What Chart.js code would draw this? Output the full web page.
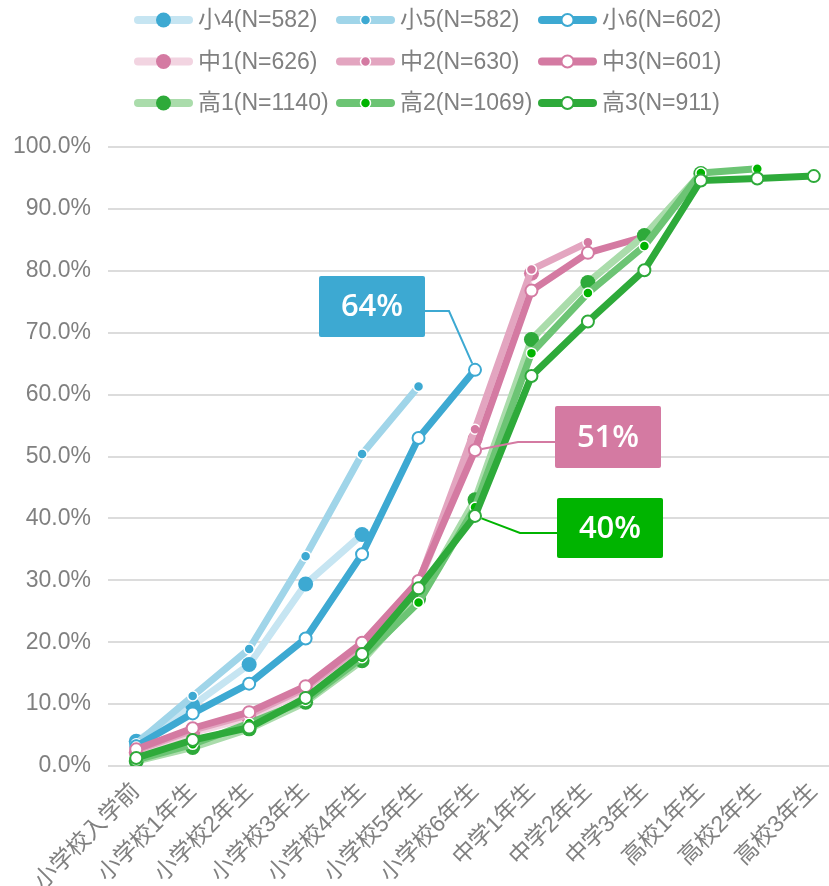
<!DOCTYPE html>
<html>
<head>
<meta charset="utf-8">
<script src="https://cdn.jsdelivr.net/npm/chart.js@4.4.1/dist/chart.umd.min.js"></script>
<style>
html, body { margin:0; padding:0; background:#fff; overflow:hidden; width:829px; height:886px; }
#wrap { position:relative; width:842px; height:886px; }
</style>
</head>
<body>
<div id="wrap"><canvas id="chart" width="842" height="886"></canvas></div>
<script>
// x categories (grade)
const categories = ['小学校入学前','小学校1年生','小学校2年生','小学校3年生','小学校4年生','小学校5年生','小学校6年生','中学1年生','中学2年生','中学3年生','高校1年生','高校2年生','高校3年生'];

// cumulative share (%) per cohort
const sho4  = [4.0, 9.8, 16.4, 29.4, 37.4, null, null, null, null, null, null, null, null];
const sho5  = [3.6, 11.3, 18.9, 33.9, 50.4, 61.3, null, null, null, null, null, null, null];
const sho6  = [3.2, 8.5, 13.3, 20.6, 34.2, 53.0, 64.0, null, null, null, null, null, null];
const chu1  = [2.2, 5.4, 7.8, 12.2, 19.0, 29.2, 52.8, 79.6, null, null, null, null, null];
const chu2  = [2.5, 5.8, 8.3, 12.6, 19.5, 29.6, 54.4, 80.2, 84.6, null, null, null, null];
const chu3  = [2.7, 6.1, 8.7, 12.9, 19.9, 29.9, 51.0, 76.8, 82.9, 85.5, null, null, null];
const kou1  = [0.8, 3.0, 6.0, 10.3, 17.0, 27.0, 43.0, 68.9, 78.1, 85.7, 95.7, null, null];
const kou2  = [1.0, 3.5, 6.9, 10.6, 17.5, 26.4, 41.8, 66.7, 76.4, 84.0, 95.8, 96.5, null];
const kou3  = [1.3, 4.2, 6.2, 11.0, 18.1, 28.7, 40.4, 63.0, 71.8, 80.1, 94.6, 94.9, 95.3];

const seriesLabels = ['小4(N=582)','小5(N=582)','小6(N=602)','中1(N=626)','中2(N=630)','中3(N=601)','高1(N=1140)','高2(N=1069)','高3(N=911)'];
const yTicks = [0, 10, 20, 30, 40, 50, 60, 70, 80, 90, 100];

const FONT = "'Liberation Sans', 'Noto Sans CJK JP', sans-serif";
Chart.defaults.font.family = FONT;

const BLUE = '#3da9d2', PINK = '#d47aa2', GREEN = '#2eaa3a', BRIGHT = '#00b400';

// line colour, marker kind: big filled / small filled / hollow
function series(label, data, line, mark, kind) {
  const ds = { label, data, borderColor: line, borderWidth: 7, borderJoinStyle: 'round', borderCapStyle: 'round',
    spanGaps: false, pointHoverRadius: 0 };
  if (kind === 'big') Object.assign(ds, { pointRadius: 7.5, pointBackgroundColor: mark, pointBorderColor: mark, pointBorderWidth: 0 });
  if (kind === 'small') Object.assign(ds, { pointRadius: 5, pointBackgroundColor: mark, pointBorderColor: '#fff', pointBorderWidth: 1.5 });
  if (kind === 'hollow') Object.assign(ds, { pointRadius: 6, pointBackgroundColor: '#fff', pointBorderColor: mark, pointBorderWidth: 2 });
  return ds;
}

const datasets = [
  series(seriesLabels[0], sho4, '#c6e5f2', BLUE, 'big'),
  series(seriesLabels[1], sho5, '#a0d5e9', BLUE, 'small'),
  series(seriesLabels[2], sho6, BLUE, BLUE, 'hollow'),
  series(seriesLabels[3], chu1, '#f2d4e1', PINK, 'big'),
  series(seriesLabels[4], chu2, '#e3a5c0', PINK, 'small'),
  series(seriesLabels[5], chu3, PINK, PINK, 'hollow'),
  series(seriesLabels[6], kou1, '#aadcab', GREEN, 'big'),
  series(seriesLabels[7], kou2, '#6cc474', BRIGHT, 'small'),
  series(seriesLabels[8], kou3, GREEN, GREEN, 'hollow'),
];
datasets.forEach((d, i) => d.order = datasets.length - i); // later cohorts on top

// legend drawn as a 3x3 grid
const legendGrid = {
  id: 'legendGrid',
  afterDraw(chart) {
    const ctx = chart.ctx;
    chart.data.datasets.forEach((ds, i) => {
      const x = 134 + (i % 3) * 202, y = 20 + Math.floor(i / 3) * 41.5;
      ctx.save();
      ctx.strokeStyle = ds.borderColor; ctx.lineWidth = 8; ctx.lineCap = 'round';
      ctx.beginPath(); ctx.moveTo(x + 4, y); ctx.lineTo(x + 55, y); ctx.stroke();
      ctx.beginPath(); ctx.arc(x + 29.5, y, ds.pointRadius, 0, Math.PI * 2);
      ctx.fillStyle = ds.pointBackgroundColor; ctx.fill();
      if (ds.pointBorderWidth) { ctx.lineWidth = ds.pointBorderWidth; ctx.strokeStyle = ds.pointBorderColor; ctx.stroke(); }
      ctx.fillStyle = '#808080'; ctx.font = '23px ' + FONT; ctx.textBaseline = 'middle';
      ctx.fillText(ds.label, x + 64, y + 1);
      ctx.restore();
    });
  }
};

// value callouts tied to a data point
const callouts = [
  { ds: 2, idx: 6, text: '64%', color: BLUE,   box: [319, 276, 106, 61], elbow: [[425, 311], [449, 311]] },
  { ds: 5, idx: 6, text: '51%', color: PINK,   box: [555, 406, 106, 62], elbow: [[555, 442], [518, 442]] },
  { ds: 8, idx: 6, text: '40%', color: BRIGHT, box: [557, 498, 106, 60], elbow: [[557, 533], [520, 533]] },
];
const calloutPlugin = {
  id: 'callouts',
  afterDatasetsDraw(chart) {
    const ctx = chart.ctx, xs = chart.scales.x, ys = chart.scales.y;
    callouts.forEach(c => {
      const ds = chart.data.datasets[c.ds];
      const px = xs.getPixelForValue(c.idx), py = ys.getPixelForValue(ds.data[c.idx]);
      const last = c.elbow[c.elbow.length - 1];
      const dx = px - last[0], dy = py - last[1], len = Math.hypot(dx, dy);
      const r = ds.pointRadius + 1;
      ctx.save();
      ctx.strokeStyle = c.color; ctx.lineWidth = 2;
      ctx.beginPath();
      ctx.moveTo(c.elbow[0][0], c.elbow[0][1]);
      c.elbow.slice(1).forEach(p => ctx.lineTo(p[0], p[1]));
      ctx.lineTo(px - dx / len * r, py - dy / len * r);
      ctx.stroke();
      const [bx, by, bw, bh] = c.box;
      ctx.fillStyle = c.color;
      ctx.beginPath(); ctx.roundRect(bx, by, bw, bh, 2); ctx.fill();
      ctx.fillStyle = '#fff'; ctx.font = "600 31px 'Open Sans', 'Noto Sans', sans-serif";
      ctx.textAlign = 'center'; ctx.textBaseline = 'middle';
      ctx.fillText(c.text, bx + bw / 2, by + bh / 2 + 1);
      ctx.restore();
    });
  }
};

new Chart(document.getElementById('chart'), {
  type: 'line',
  data: { labels: categories, datasets },
  options: {
    responsive: false,
    animation: false,
    layout: { autoPadding: false, padding: { top: 147, right: 0, bottom: 0, left: 0 } },
    plugins: { legend: { display: false }, tooltip: { enabled: false } },
    scales: {
      x: {
        offset: true,
        grid: { display: false },
        border: { display: false },
        ticks: { autoSkip: false, minRotation: 45, maxRotation: 45, color: '#808080', font: { size: 23 }, padding: 4 },
        afterFit: s => { s.height = 120; s.paddingRight = 0; s.paddingLeft = 0; }
      },
      y: {
        min: 0, max: 100,
        afterBuildTicks: s => { s.ticks = yTicks.map(v => ({ value: v })); },
        grid: { color: '#dcdcdc', lineWidth: 2, drawTicks: false },
        border: { display: false },
        ticks: { color: '#808080', font: { size: 23 }, padding: 17, callback: v => v.toFixed(1) + '%' },
        afterFit: s => { s.width = 108; s.paddingTop = 0; s.paddingBottom = 0; }
      }
    }
  },
  plugins: [legendGrid, calloutPlugin]
});
</script>
</body>
</html>
